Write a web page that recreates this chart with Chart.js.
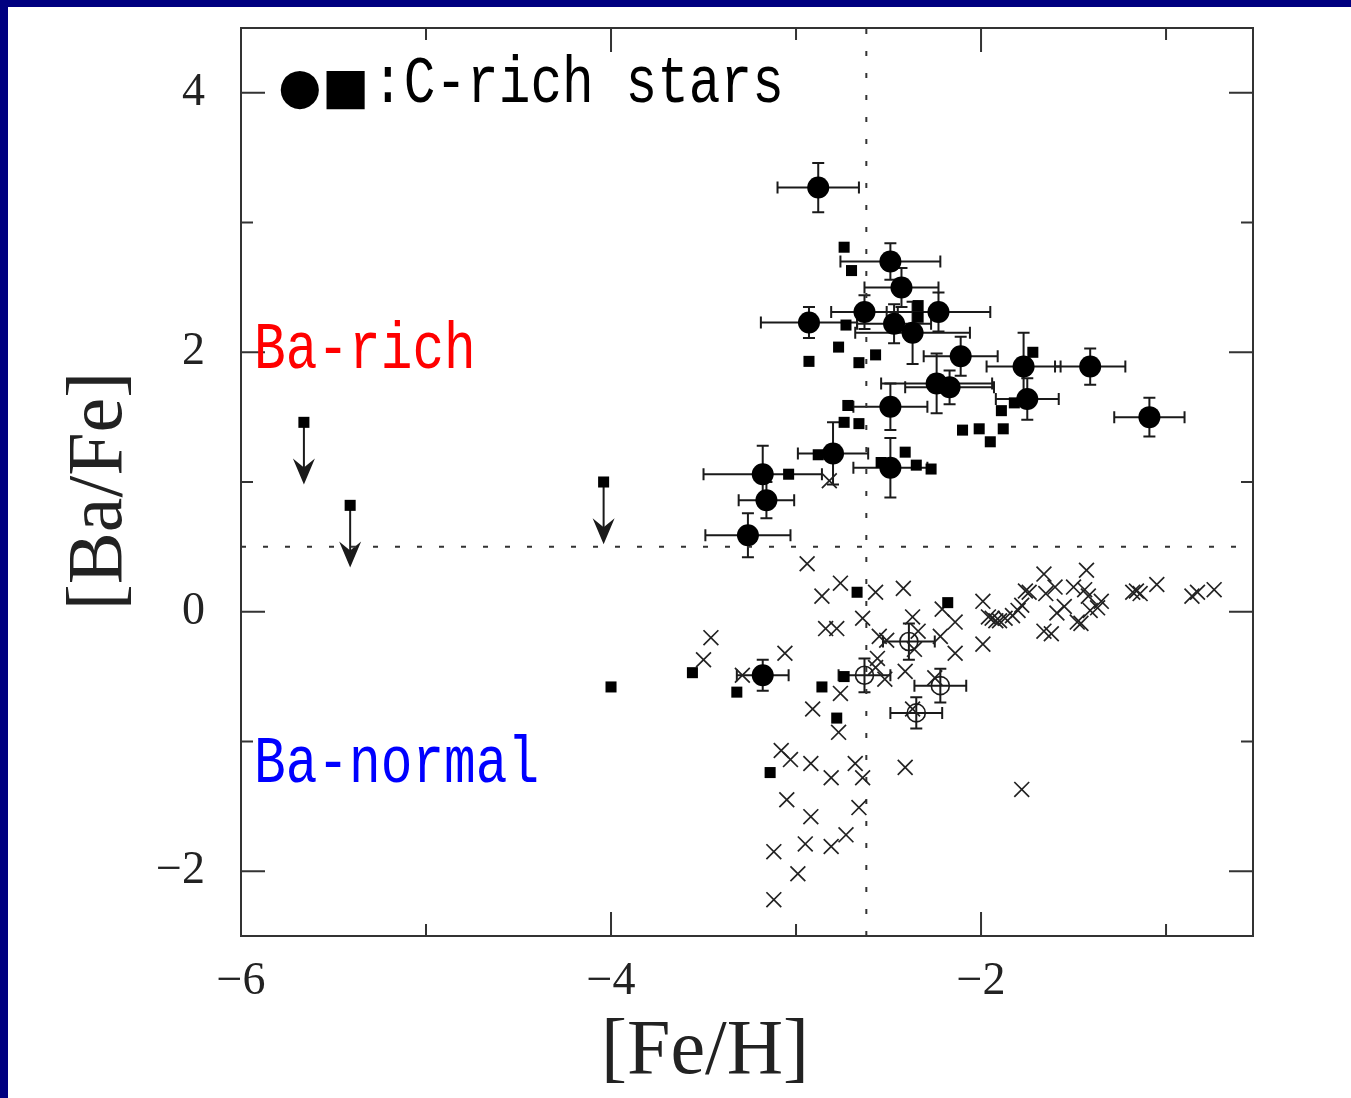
<!DOCTYPE html>
<html>
<head>
<meta charset="utf-8">
<script src="https://cdn.jsdelivr.net/npm/chart.js@4.4.0/dist/chart.umd.min.js"></script>
<style>
  html, body { margin: 0; padding: 0; background: #fff; }
  #wrap { position: relative; width: 1351px; height: 1098px; overflow: hidden; }
  #edge { position: absolute; left: 0; top: 0; width: 1351px; height: 1098px; box-sizing: border-box;
          border-top: 7px solid #000080; border-left: 8px solid #000080; }
  #myChart { position: absolute; left: 0; top: 0; }
</style>
</head>
<body>
<div id="wrap">
  <div id="edge"></div>
  <canvas id="myChart" width="1351" height="1098"></canvas>
</div>
<script>
// C-rich stars with error bars (filled circles)
var circFeH = [-2.88, -2.49, -2.43, -2.93, -2.63, -2.23, -2.47, -2.37, -2.11, -1.77, -1.41,
  -1.75, -1.09, -2.24, -2.17, -2.49, -2.80, -2.49, -3.18, -3.16, -3.26, -3.18];
var circBaFe = [3.27, 2.70, 2.50, 2.23, 2.31, 2.31, 2.22, 2.15, 1.97, 1.89, 1.89,
  1.64, 1.50, 1.76, 1.73, 1.58, 1.22, 1.11, 1.06, 0.86, 0.59, -0.49];
var circFeHErr = [0.22, 0.27, 0.20, 0.26, 0.18, 0.28, 0.20, 0.31, 0.20, 0.20, 0.19,
  0.17, 0.19, 0.30, 0.24, 0.20, 0.19, 0.20, 0.32, 0.15, 0.23, 0.14];
var circBaFeErr = [0.19, 0.14, 0.15, 0.12, 0.13, 0.15, 0.15, 0.24, 0.15, 0.26, 0.14,
  0.16, 0.15, 0.23, 0.13, 0.18, 0.24, 0.23, 0.22, 0.14, 0.17, 0.12];

// open circles with error bars
var openFeH = [-2.39, -2.63, -2.22, -2.35];
var openBaFe = [-0.23, -0.49, -0.57, -0.78];
var openFeHErr = [0.14, 0.14, 0.14, 0.14];
var openBaFeErr = [0.14, 0.13, 0.13, 0.12];

// C-rich stars (filled squares)
var sqFeH = [-2.74, -2.70, -2.73, -2.77, -2.93, -2.66, -2.57, -2.34, -2.34,
  -2.72, -2.74, -2.66, -2.88, -3.04, -2.41, -2.35, -2.27, -2.54,
  -1.89, -2.10, -2.01, -1.95, -1.88, -1.72, -1.82,
  -2.67, -2.18, -3.56, -3.32, -2.86, -2.74, -2.78, -3.14, -4.00];
var sqBaFe = [2.81, 2.63, 2.21, 2.04, 1.93, 1.92, 1.98, 2.36, 2.27,
  1.59, 1.46, 1.45, 1.21, 1.06, 1.23, 1.13, 1.10, 1.15,
  1.55, 1.40, 1.41, 1.31, 1.41, 2.00, 1.61,
  0.15, 0.07, -0.47, -0.62, -0.58, -0.50, -0.82, -1.24, -0.58];

// upper limits (squares with arrows)
var limFeH = [-5.66, -5.41, -4.04];
var limBaFe = [1.46, 0.82, 1.00];
var limDrop = 0.48;

// comparison stars (crosses)
var xFeH = [-2.94, -2.76, -2.86, -2.57, -2.42, -2.64, -2.84, -2.78, -3.46, -3.50, -3.06, -3.29,
  -2.55, -2.51, -2.37, -2.34, -2.36, -2.56, -2.57, -2.52, -2.41, -2.22, -2.14, -2.21, -2.14,
  -1.99, -1.99, -1.94, -2.76, -2.91, -2.77, -2.37, -2.82, -2.25,
  -3.08, -3.03, -2.92, -2.81, -2.68, -2.64, -2.41, -3.05, -2.92, -2.66, -2.73, -2.95, -2.81,
  -3.12, -2.99, -3.12,
  -1.96, -1.92, -1.87, -1.80, -1.78, -1.76, -1.74, -1.66, -1.65, -1.60, -1.59, -1.55, -1.50,
  -1.43, -1.44, -1.42, -1.35, -1.37, -1.41, -1.48, -1.46, -1.66, -1.62, -1.18, -1.14, -1.16,
  -1.05, -0.86, -0.83, -0.74, -1.78, -1.83, -1.90];
var xBaFe = [0.37, 0.22, 0.12, 0.15, 0.18, -0.05, -0.13, -0.13, -0.20, -0.37, -0.32, -0.49,
  -0.19, -0.22, -0.04, -0.15, -0.29, -0.36, -0.43, -0.52, -0.46, -0.19, -0.32, 0.02, -0.08,
  0.08, -0.25, -0.05, -0.63, -0.75, -0.93, -0.75, 1.01, -0.51,
  -1.07, -1.14, -1.17, -1.28, -1.17, -1.28, -1.20, -1.45, -1.58, -1.51, -1.72, -1.79, -1.81,
  -1.85, -2.02, -2.22,
  -0.04, -0.07, -0.05, 0.01, 0.05, 0.16, 0.15, 0.29, 0.14, 0.19, -0.01, 0.04, 0.19,
  0.32, 0.17, 0.12, 0.08, 0.03, 0.01, -0.08, -0.09, -0.15, -0.17, 0.15, 0.14, 0.16,
  0.21, 0.12, 0.15, 0.17, -1.37, -0.03, -0.07];

// dividing lines
var feHCut = -2.62;
var baFeCut = 0.5;

var xTicks = [-6, -5, -4, -3, -2, -1];
var yTicks = [-2, -1, 0, 1, 2, 3, 4];

function pts(xs, ys) {
  return xs.map(function (v, i) { return { x: v, y: ys[i] }; });
}
function fmt(v) {
  return v < 0 ? "\u2212" + Math.abs(v) : String(v);
}

var ink = "#1a1a1a";

// error bars, arrows, frame, inward ticks, labels
var extras = {
  id: "extras",
  beforeDatasetsDraw: function (chart) {
    var ctx = chart.ctx;
    var xs = chart.scales.x, ys = chart.scales.y;
    ctx.save();
    ctx.strokeStyle = ink;
    ctx.lineWidth = 2;
    chart.data.datasets.forEach(function (ds) {
      if (!ds.xErr) return;
      ds.data.forEach(function (p, i) {
        var px = xs.getPixelForValue(p.x), py = ys.getPixelForValue(p.y);
        var x1 = xs.getPixelForValue(p.x - ds.xErr[i]), x2 = xs.getPixelForValue(p.x + ds.xErr[i]);
        var y1 = ys.getPixelForValue(p.y - ds.yErr[i]), y2 = ys.getPixelForValue(p.y + ds.yErr[i]);
        ctx.beginPath();
        ctx.moveTo(x1, py); ctx.lineTo(x2, py);
        ctx.moveTo(x1, py - 6); ctx.lineTo(x1, py + 6);
        ctx.moveTo(x2, py - 6); ctx.lineTo(x2, py + 6);
        ctx.moveTo(px, y1); ctx.lineTo(px, y2);
        ctx.moveTo(px - 6, y1); ctx.lineTo(px + 6, y1);
        ctx.moveTo(px - 6, y2); ctx.lineTo(px + 6, y2);
        ctx.stroke();
      });
    });
    // arrows for the upper limits
    ctx.fillStyle = ink;
    limFeH.forEach(function (v, i) {
      var px = xs.getPixelForValue(v);
      var py = ys.getPixelForValue(limBaFe[i]);
      var ty = ys.getPixelForValue(limBaFe[i] - limDrop);
      ctx.beginPath();
      ctx.moveTo(px, py); ctx.lineTo(px, ty - 12);
      ctx.stroke();
      ctx.beginPath();
      ctx.moveTo(px, ty);
      ctx.lineTo(px - 11, ty - 26);
      ctx.lineTo(px, ty - 17);
      ctx.lineTo(px + 11, ty - 26);
      ctx.closePath();
      ctx.fill();
    });
    ctx.restore();
  },
  afterDatasetsDraw: function (chart) {
    var ctx = chart.ctx;
    var a = chart.chartArea;
    var xs = chart.scales.x, ys = chart.scales.y;
    ctx.save();
    ctx.strokeStyle = "#333";
    ctx.lineWidth = 2;
    ctx.strokeRect(a.left, a.top, a.right - a.left, a.bottom - a.top);
    ctx.beginPath();
    xTicks.forEach(function (v) {
      var px = xs.getPixelForValue(v);
      var len = v % 2 === 0 ? 24 : 12;
      ctx.moveTo(px, a.bottom); ctx.lineTo(px, a.bottom - len);
      ctx.moveTo(px, a.top); ctx.lineTo(px, a.top + len);
    });
    yTicks.forEach(function (v) {
      var py = ys.getPixelForValue(v);
      var len = v % 2 === 0 ? 24 : 12;
      ctx.moveTo(a.left, py); ctx.lineTo(a.left + len, py);
      ctx.moveTo(a.right, py); ctx.lineTo(a.right - len, py);
    });
    ctx.stroke();

    // axis titles
    ctx.fillStyle = "#222";
    ctx.font = "78px 'Liberation Serif'";
    ctx.textAlign = "center";
    ctx.textBaseline = "middle";
    ctx.fillText("[Fe/H]", 705, 1053);
    ctx.save();
    ctx.translate(101, 491);
    ctx.rotate(-Math.PI / 2);
    ctx.fillText("[Ba/Fe]", 0, 0);
    ctx.restore();

    // annotations
    ctx.textBaseline = "alphabetic";
    ctx.textAlign = "left";
    ctx.fillStyle = "#000";
    ctx.font = "50px 'DejaVu Sans'";
    ctx.fillText("\u25CF\u25A0", 278, 103);
    function squeezed(text, x, y, color) {
      ctx.save();
      ctx.translate(x, y);
      ctx.scale(0.8, 1);
      ctx.fillStyle = color;
      ctx.font = "66px 'Liberation Mono'";
      ctx.fillText(text, 0, 0);
      ctx.restore();
    }
    squeezed(":C-rich stars", 372, 102, "#000");
    squeezed("Ba-rich", 254, 368, "#ff0000");
    squeezed("Ba-normal", 254, 782, "#0000ff");
    ctx.restore();
  }
};

new Chart("myChart", {
  type: "scatter",
  data: {
    datasets: [
      {
        type: "line",
        data: [{ x: feHCut, y: -2.5 }, { x: feHCut, y: 4.5 }],
        borderColor: "#333",
        borderWidth: 2,
        borderDash: [5, 17],
        pointRadius: 0,
        order: 6,
      },
      {
        type: "line",
        data: [{ x: -6, y: baFeCut }, { x: -0.53, y: baFeCut }],
        borderColor: "#333",
        borderWidth: 2,
        borderDash: [5, 17],
        pointRadius: 0,
        order: 6,
      },
      {
        data: pts(xFeH, xBaFe),
        pointStyle: "crossRot",
        pointRadius: 10.5,
        borderColor: "#222",
        borderWidth: 1.7,
        order: 5,
      },
      {
        data: pts(sqFeH, sqBaFe),
        pointStyle: "rect",
        pointRadius: 7.8,
        backgroundColor: "#000",
        borderWidth: 0,
        order: 4,
      },
      {
        data: pts(limFeH, limBaFe),
        pointStyle: "rect",
        pointRadius: 7.8,
        backgroundColor: "#000",
        borderWidth: 0,
        order: 4,
      },
      {
        data: pts(openFeH, openBaFe),
        xErr: openFeHErr,
        yErr: openBaFeErr,
        pointStyle: "circle",
        pointRadius: 9,
        backgroundColor: "rgba(0,0,0,0)",
        borderColor: ink,
        borderWidth: 1.6,
        order: 3,
      },
      {
        data: pts(circFeH, circBaFe),
        xErr: circFeHErr,
        yErr: circBaFeErr,
        pointStyle: "circle",
        pointRadius: 11,
        backgroundColor: "#000",
        borderWidth: 0,
        order: 2,
      },
    ],
  },
  plugins: [extras],
  options: {
    responsive: false,
    animation: false,
    layout: {
      padding: { top: 28, right: 98, left: 0, bottom: 0 },
    },
    plugins: {
      legend: { display: false },
      tooltip: { enabled: false },
    },
    scales: {
      x: {
        type: "linear",
        min: -6,
        max: -0.53,
        afterBuildTicks: function (scale) {
          scale.ticks = xTicks.map(function (v) { return { value: v }; });
        },
        afterFit: function (scale) {
          scale.height = 162;
          scale.paddingLeft = 0;
          scale.paddingRight = 0;
        },
        grid: { display: false, drawTicks: false },
        border: { display: false },
        ticks: {
          color: "#222",
          padding: 18,
          maxRotation: 0,
          autoSkip: false,
          font: { family: "'Liberation Serif'", size: 46 },
          callback: function (v) { return v % 2 === 0 ? fmt(v) : ""; },
        },
      },
      y: {
        type: "linear",
        min: -2.5,
        max: 4.5,
        afterBuildTicks: function (scale) {
          scale.ticks = yTicks.map(function (v) { return { value: v }; });
        },
        afterFit: function (scale) {
          scale.width = 241;
          scale.paddingTop = 0;
          scale.paddingBottom = 0;
        },
        grid: { display: false, drawTicks: false },
        border: { display: false },
        ticks: {
          color: "#222",
          padding: 36,
          autoSkip: false,
          font: { family: "'Liberation Serif'", size: 46 },
          callback: function (v) { return v % 2 === 0 ? fmt(v) : ""; },
        },
      },
    },
  },
});
</script>
</body>
</html>
